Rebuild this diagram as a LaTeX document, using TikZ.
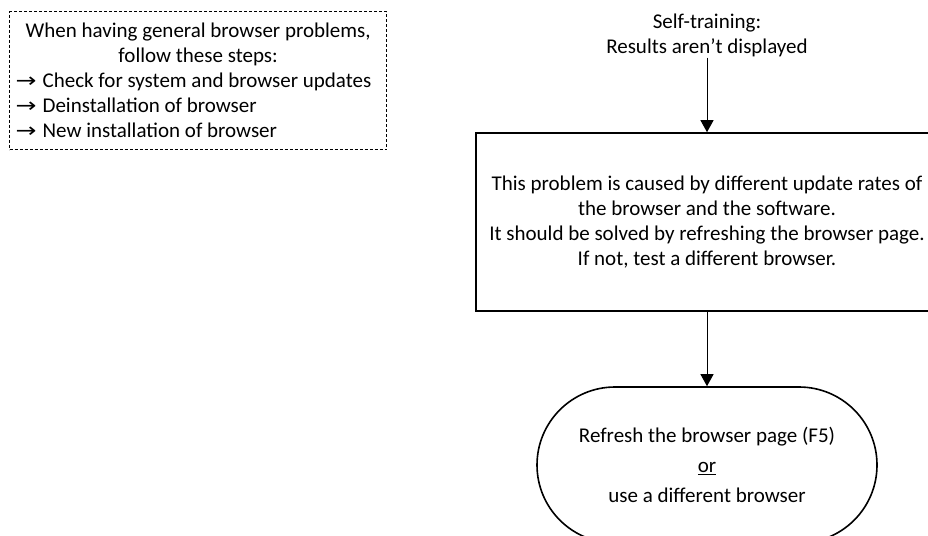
\documentclass[tikz,border=0pt]{standalone}
\usepackage{fontspec}
\usepackage{graphicx}
\setmainfont{Carlito}
\newfontfamily\arrowfont{DejaVu Sans}
\usetikzlibrary{arrows.meta,shapes.misc}
\newcommand{\stepArrow}{\hspace*{2pt}\scalebox{1.25}[1]{\arrowfont\fontsize{20}{25}\selectfont →}\hspace{6pt}}
\begin{document}
\begin{tikzpicture}[x=1pt,y=-1pt, font=\fontsize{21}{25}\selectfont,
  conn/.style={draw, line width=1pt, -{Triangle[width=13pt,length=12pt]}},
  procbox/.style={draw, line width=1.6pt, rectangle, minimum width=462pt, minimum height=178pt, align=center, inner sep=0pt},
  term/.style={draw, line width=1.6pt, rounded rectangle, minimum width=340pt, minimum height=156pt, align=center, inner sep=0pt, font=\fontsize{21}{30}\selectfont},
  note/.style={draw, line width=1.3pt, dash pattern=on 3pt off 2pt, minimum width=377pt, minimum height=138pt, inner xsep=4pt, inner ysep=0pt, align=left, anchor=north west},
  plain/.style={align=center, inner sep=1pt}]
\useasboundingbox (0,0) rectangle (928,535);
\clip (0,0) rectangle (928,535);
\node[note] (tips) at (9,11) {\makebox[369pt][c]{When having general browser problems,}\\
\makebox[369pt][c]{follow these steps:}\\
\stepArrow Check for system and browser updates\\
\stepArrow Deinstallation of browser\\
\stepArrow New installation of browser};
\node[plain] (title) at (707,35) {Self-training:\\Results aren’t displayed};
\node[procbox] (proc) at (707,222) {This problem is caused by different update rates of\\ the browser and the software.\\ It should be solved by refreshing the browser page.\\ If not, test a different browser.};
\node[term] (end) at (707,465) {Refresh the browser page (F5)\\ \underline{or}\\ use a different browser};
\draw[conn] (title) -- (proc);
\draw[conn] (proc) -- (end);
\end{tikzpicture}
\end{document}
